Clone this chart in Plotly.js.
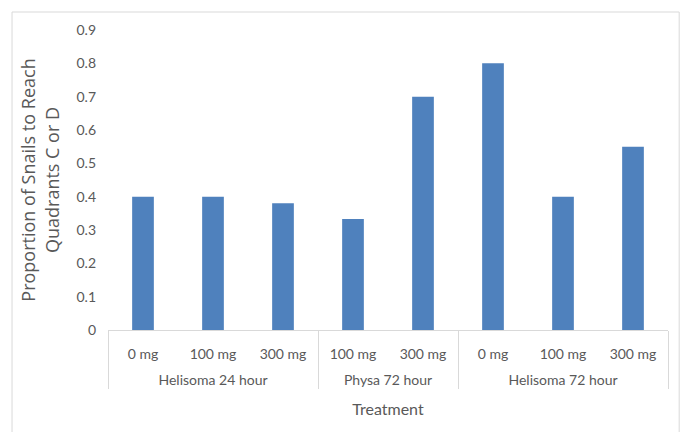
<!DOCTYPE html>
<html>
<head>
<meta charset="utf-8">
<script src="https://cdn.plot.ly/plotly-3.0.1.min.js"></script>
<style>html,body{margin:0;padding:0;background:#fff;}#chart{width:683px;height:432px;}</style>
</head>
<body>
<div id="chart"></div>
<script>
const groups = ["Helisoma 24 hour","Helisoma 24 hour","Helisoma 24 hour","Physa 72 hour","Physa 72 hour","Helisoma 72 hour","Helisoma 72 hour","Helisoma 72 hour"];
const doses = ["0 mg","100 mg","300 mg","100 mg","300 mg","0 mg","100 mg","300 mg"];
const proportions = [0.4, 0.4, 0.38, 0.333, 0.7, 0.8, 0.4, 0.55];
const yTicks = [0,0.1,0.2,0.3,0.4,0.5,0.6,0.7,0.8,0.9];
const yTickText = ["0","0.1","0.2","0.3","0.4","0.5","0.6","0.7","0.8","0.9"];

const font = "Lato, Open Sans, sans-serif";
const trace = {
  type: "bar",
  x: [groups.map(g => "<br>" + g), doses],
  y: proportions,
  marker: {color: "#4f81bd"},
  width: 0.31,
  hoverinfo: "none"
};
const layout = {
  width: 683, height: 432,
  margin: {l: 108, r: 15, t: 30, b: 102},
  paper_bgcolor: "#fff", plot_bgcolor: "#fff",
  showlegend: false,
  font: {family: font, color: "#595959", size: 14},
  xaxis: {
    type: "multicategory",
    showline: true, linecolor: "#d9d9d9", linewidth: 1,
    showgrid: false, ticks: "",
    ticklabelstandoff: 11,
    showdividers: true, dividercolor: "#d9d9d9", dividerwidth: 1,
    tickfont: {family: font, size: 14, color: "#595959"},
    title: {text: "Treatment", font: {family: font, size: 16, color: "#595959"}, standoff: 16}
  },
  yaxis: {
    range: [0, 0.9], tickvals: yTicks, ticktext: yTickText,
    showgrid: false, zeroline: false, showline: false, ticks: "",
    ticklabelstandoff: 11,
    tickfont: {family: font, size: 14, color: "#595959"},
    title: {text: "Proportion of Snails to Reach<br>Quadrants C or D", font: {family: "Open Sans, sans-serif", size: 18, color: "#595959"}, standoff: 12}
  },
  shapes: [{
    type: "rect", xref: "paper", yref: "paper",
    x0: -0.1714, x1: 1.02, y0: -0.345, y1: 1.06,
    line: {color: "#d9d9d9", width: 1}, fillcolor: "rgba(0,0,0,0)", layer: "below"
  }]
};
Plotly.newPlot("chart", [trace], layout, {staticPlot: true, displayModeBar: false});
</script>
</body>
</html>
